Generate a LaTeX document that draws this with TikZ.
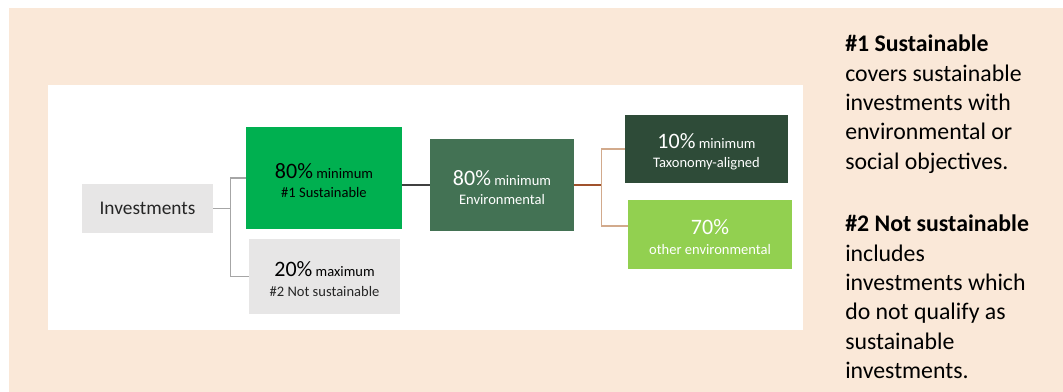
\documentclass[tikz,border=0pt]{standalone}
\usepackage{fontspec}
\setmainfont{Carlito}
\usetikzlibrary{calc}
\usepackage{xcolor}

\definecolor{peach}{HTML}{FAE8D8}
\definecolor{boxgrey}{HTML}{E7E6E6}
\definecolor{susgreen}{HTML}{00B050}
\definecolor{envgreen}{HTML}{437254}
\definecolor{taxgreen}{HTML}{2E4B38}
\definecolor{othgreen}{HTML}{92D050}
\definecolor{linkgrey}{HTML}{A6A6A6}
\definecolor{linkdark}{HTML}{404040}
\definecolor{linkbrown}{HTML}{A0522D}
\definecolor{linktan}{HTML}{D2AA8C}
\definecolor{textgrey}{HTML}{262626}

\newcommand{\pct}[1]{{\fontsize{16.5}{14.6}\selectfont\rule{0pt}{15pt}#1}}

\tikzset{
    box/.style = {rectangle, inner sep = 0pt, align = center, font = \fontsize{10.9}{14.6}\selectfont},
    link/.style = {line width = 1.1pt}
}

\begin{document}
\begin{tikzpicture}[x = 0.75pt, y = -0.75pt]
    \useasboundingbox (0,0) rectangle (1063,392);
    \fill[white] (0,0) rectangle (1063,392);
    \fill[peach] (9,8) rectangle (1063,392);
    \fill[white] (48,85) rectangle (803,330);

    % boxes
    \node[box, fill = boxgrey, text = textgrey, minimum width = 98.25pt, minimum height = 36.75pt,
          font = \fontsize{14.5}{17}\selectfont] (inv) at (147.5,208.5) {Investments};
    \node[box, fill = susgreen, text = black, minimum width = 117pt, minimum height = 76.5pt] (sus) at (324,178)
        {\pct{80\%} minimum\\ \#1 Sustainable};
    \node[box, fill = boxgrey, text = black, minimum width = 113.25pt, minimum height = 56.25pt] (nots) at (324.5,276.5)
        {\pct{20\%} maximum\\ \textcolor{textgrey}{\#2 Not sustainable}};
    \node[box, fill = envgreen, text = white, minimum width = 108pt, minimum height = 69pt] (env) at (502,185)
        {\pct{80\%} minimum\\ Environmental};
    \node[box, fill = taxgreen, text = white, minimum width = 122.25pt, minimum height = 51pt] (tax) at (706.5,149)
        {\pct{10\%} minimum\\ Taxonomy-aligned};
    \node[box, fill = othgreen, text = white, minimum width = 123pt, minimum height = 51.75pt] (oth) at (710,234.5)
        {\pct{70\%}\\ other environmental};

    % connectors
    \draw[link, linkgrey] (inv.east) -- ++(17,0) |- (sus.west);
    \draw[link, linkgrey] (inv.east) -- ++(17,0) |- (nots.west);
    \draw[link, linkdark] (sus.east |- env.west) -- (env.west);
    \draw[link, linktan] (env.east) -- ++(27,0) |- (tax.west);
    \draw[link, linktan] (env.east) -- ++(27,0) |- ($(oth.west)+(0,-8.5)$);
    \draw[link, linkbrown] (env.east) -- ++(27,0);

    % side note
    \node[anchor = north west, inner sep = 0pt, align = left, font = \fontsize{17.85}{22}\selectfont] (note) at (845,35)
        {\textbf{\#1 Sustainable}\\ covers sustainable\\ investments with\\ environmental or\\ social objectives.\\[25pt]
         \textbf{\#2 Not sustainable}\\ includes\\ investments which\\ do not qualify as\\ sustainable\\ investments.};
\end{tikzpicture}
\end{document}
